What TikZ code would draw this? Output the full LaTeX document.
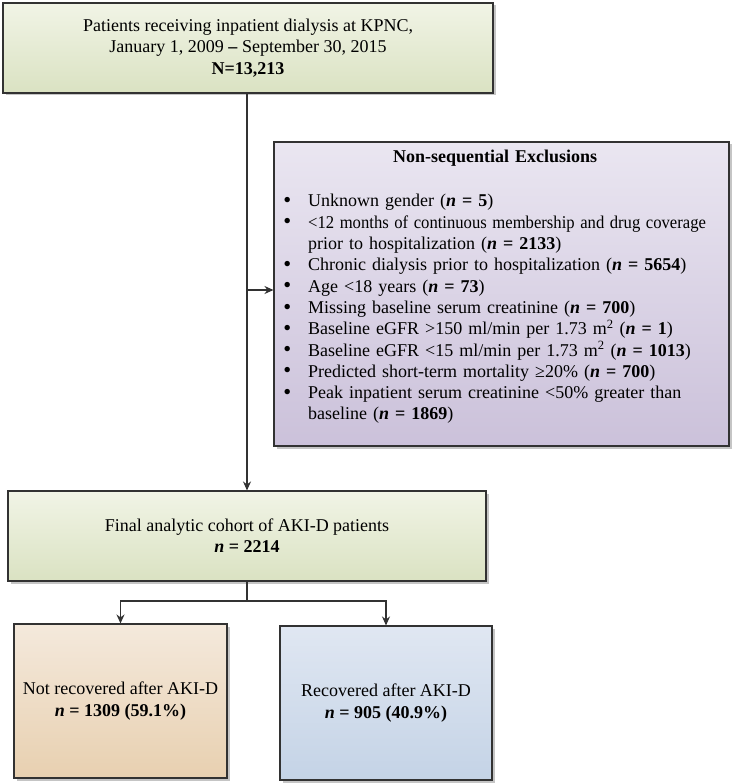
\documentclass[tikz,border=0pt]{standalone}
\usepackage{fontspec}
\usepackage{graphicx}
\setmainfont{Liberation Serif}
\usetikzlibrary{shadows,arrows.meta}
\definecolor{lnc}{RGB}{50,50,50}
\definecolor{grT}{RGB}{241,244,230}
\definecolor{grB}{RGB}{218,226,194}
\definecolor{puT}{RGB}{234,230,241}
\definecolor{puB}{RGB}{203,193,218}
\definecolor{taT}{RGB}{244,233,220}
\definecolor{taB}{RGB}{232,208,176}
\definecolor{blT}{RGB}{224,231,242}
\definecolor{blB}{RGB}{196,211,230}
\tikzset{
  box/.style={draw=lnc, line width=1.1pt, rectangle, align=center, inner sep=0pt,
    drop shadow={shadow xshift=2.5pt, shadow yshift=-2.5pt, fill=black!45}},
  greenbox/.style={box, top color=grT, bottom color=grB},
  purplebox/.style={box, top color=puT, bottom color=puB},
  tanbox/.style={box, top color=taT, bottom color=taB},
  bluebox/.style={box, top color=blT, bottom color=blB},
  conn/.style={draw=lnc, line width=1.3pt},
  arr/.style={conn, -{Stealth[length=9pt,width=8pt]}},
  txt/.style={font=\fontsize{18}{21.3}\selectfont},
  ltxt/.style={font=\fontsize{18}{21.3}\selectfont}
}
\newcommand{\bn}{\textbf{\textit{n}}}
\begin{document}
\begin{tikzpicture}[x=1pt,y=1pt]
\useasboundingbox (0,0) rectangle (736,-783);
\node[greenbox, txt, minimum width=490pt, minimum height=90pt] (top) at (248,-48)
  {Patients receiving inpatient dialysis at KPNC,\\January 1, 2009 \textbf{--} September 30, 2015\\\textbf{N=13,213}};
\node[purplebox, minimum width=455pt, minimum height=304pt] (excl) at (501.5,-294) {};
\node[ltxt, anchor=north west, inner sep=0pt, text width=440pt, align=left] (excltext) at (283,-150)
  {\hspace*{-8pt}\makebox[440pt][c]{\textbf{Non-sequential Exclusions}}\par
   \vspace{23pt}
   \begin{list}{\raisebox{-0.6pt}{\scalebox{1.25}{•}}}{\setlength\leftmargin{25pt}\setlength\labelwidth{10pt}\setlength\labelsep{17pt}%
     \setlength\itemsep{0pt}\setlength\parsep{0pt}\setlength\topsep{0pt}\setlength\partopsep{0pt}}
   \raggedright
   \item Unknown gender (\bn\ \textbf{= 5})
   \item \scalebox{0.925}[1]{<12 months of continuous membership and drug coverage}\\prior to hospitalization (\bn\ \textbf{= 2133})
   \item Chronic dialysis prior to hospitalization (\bn\ \textbf{= 5654})
   \item Age <18 years (\bn\ \textbf{= 73})
   \item Missing baseline serum creatinine (\bn\ \textbf{= 700})
   \item Baseline eGFR >150 ml/min per 1.73 m\textsuperscript{2} (\bn\ \textbf{= 1})
   \item Baseline eGFR <15 ml/min per 1.73 m\textsuperscript{2} (\bn\ \textbf{= 1013})
   \item Predicted short-term mortality ≥20\% (\bn\ \textbf{= 700})
   \item Peak inpatient serum creatinine <50\% greater than baseline (\bn\ \textbf{= 1869})
   \end{list}};
\node[greenbox, txt, minimum width=478pt, minimum height=90pt] (cohort) at (247,-536)
  {Final analytic cohort of AKI-D patients\\\bn\ \textbf{= 2214}};
\node[tanbox, txt, minimum width=213pt, minimum height=154pt] (left) at (120.5,-701)
  {Not recovered after AKI-D\\\bn\ \textbf{= 1309 (59.1\%)}};
\node[bluebox, txt, minimum width=212pt, minimum height=154pt] (right) at (386,-703)
  {Recovered after AKI-D\\\bn\ \textbf{= 905 (40.9\%)}};
\coordinate (j1) at (247,-290);
\coordinate (br) at (247,-601);
\draw[arr] (top.south -| j1) -- (cohort.north -| j1);
\draw[arr] (j1) -- (excl.west |- j1);
\draw[conn] (cohort.south -| br) -- (br);
\draw[arr] (br) -| (left.north);
\draw[arr] (br) -| (right.north);
\end{tikzpicture}
\end{document}
